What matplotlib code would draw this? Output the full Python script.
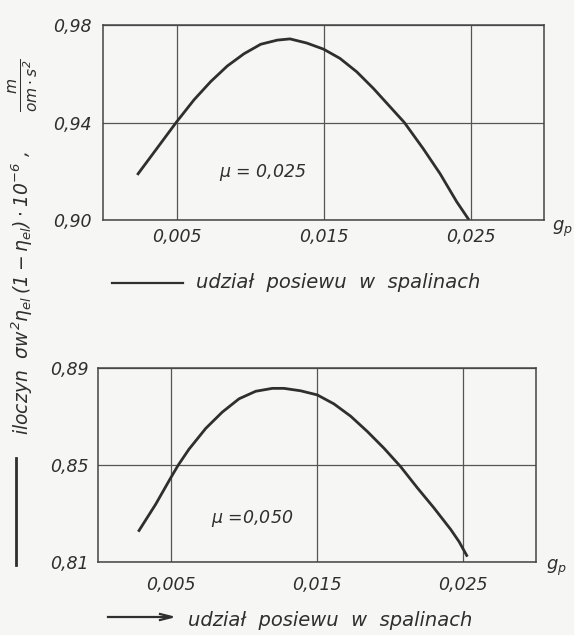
import numpy as np
import matplotlib
matplotlib.use('Agg')
import matplotlib.pyplot as plt
from matplotlib.lines import Line2D

plt.rcParams['font.family'] = ['DejaVu Sans']
plt.rcParams['font.style'] = 'italic'
plt.rcParams['mathtext.fontset'] = 'dejavusans'
plt.rcParams['mathtext.default'] = 'it'

# udzial posiewu g_p
x_gora = [0.00233, 0.005, 0.00619, 0.00733, 0.00846, 0.00959, 0.01073, 0.01186, 0.01272,
          0.01386, 0.015, 0.01612, 0.01726, 0.01839, 0.01952, 0.0205, 0.02179, 0.02293,
          0.02406, 0.0249]
y_gora = [0.9185, 0.9402, 0.9493, 0.9568, 0.9632, 0.9682, 0.9721, 0.9738, 0.9743,
          0.9726, 0.9701, 0.9663, 0.9608, 0.954, 0.9465, 0.940, 0.9292, 0.919,
          0.9075, 0.900]

x_dol = [0.00276, 0.00395, 0.00498, 0.0055, 0.00623, 0.00738, 0.00851, 0.00966, 0.0108,
         0.01194, 0.01274, 0.01388, 0.01502, 0.01616, 0.01731, 0.01845, 0.01959, 0.02073,
         0.02187, 0.02301, 0.02416, 0.02473, 0.0253]
y_dol = [0.8225, 0.8338, 0.8447, 0.850, 0.8565, 0.8651, 0.8718, 0.8773, 0.8804,
         0.8816, 0.8816, 0.8806, 0.8789, 0.8752, 0.8701, 0.8638, 0.8569, 0.8493,
         0.8406, 0.8323, 0.8234, 0.8184, 0.8122]

xticks = [0.005, 0.015, 0.025]
xtick_labels = ['0,005', '0,015', '0,025']
yticks_gora = [0.90, 0.94, 0.98]
ytick_labels_gora = ['0,90', '0,94', '0,98']
yticks_dol = [0.81, 0.85, 0.89]
ytick_labels_dol = ['0,81', '0,85', '0,89']

ink = '#2f2f2f'
tlo = '#f6f6f4'

W, H = 574, 635
fig = plt.figure(figsize=(W / 100, H / 100), dpi=100)
fig.patch.set_facecolor(tlo)


def px(x0, y0, x1, y1):
    # prostokat w pikselach (od gory) -> wspolrzedne figury
    return [x0 / W, 1 - y1 / H, (x1 - x0) / W, (y1 - y0) / H]


def panel(rect, xs, ys, yticks, ylabels, mu_txt, mu_pos, xpad, ypad):
    ax = fig.add_axes(rect)
    ax.set_facecolor(tlo)
    ax.plot(xs, ys, color=ink, lw=2.0, solid_capstyle='butt')
    ax.set_xlim(0, 0.03)
    ax.set_ylim(yticks[0], yticks[-1])
    ax.set_xticks(xticks)
    ax.set_xticklabels(xtick_labels)
    ax.set_yticks(yticks)
    ax.set_yticklabels(ylabels)
    ax.grid(True, color='#555555', lw=0.9)
    ax.tick_params(length=0, labelsize=12.5, colors=ink)
    ax.tick_params(axis='x', pad=xpad)
    ax.tick_params(axis='y', pad=ypad)
    for s in ax.spines.values():
        s.set_color('#444444')
        s.set_linewidth(1.1)
    ax.text(mu_pos[0], mu_pos[1], mu_txt, ha='center', va='center',
            fontsize=12.5, color=ink)
    return ax


ax1 = panel(px(103, 25, 544, 220), x_gora, y_gora, yticks_gora, ytick_labels_gora,
            r'$\mu$ = 0,025', (0.0109, 0.9193), 6, 8)
ax2 = panel(px(98, 368, 536, 562), x_dol, y_dol, yticks_dol, ytick_labels_dol,
            r'$\mu$ =0,050', (0.01055, 0.8281), 10, 7)

# oznaczenie osi x
fig.text(552 / W, 1 - 229 / H, r'$g_p$', fontsize=13, color=ink, va='center')
fig.text(546 / W, 1 - 568 / H, r'$g_p$', fontsize=13, color=ink, va='center')

fig.add_artist(Line2D([112 / W, 183 / W], [1 - 283 / H] * 2, color=ink, lw=1.6))
fig.text(196 / W, 1 - 283 / H, 'udział  posiewu  w  spalinach', fontsize=14,
         color=ink, va='center')
fig.add_artist(Line2D([108 / W, 170 / W], [1 - 617 / H] * 2, color=ink, lw=1.6))
fig.add_artist(Line2D([160 / W, 172 / W, 160 / W], [1 - 614 / H, 1 - 617 / H, 1 - 620 / H],
                      color=ink, lw=1.6))
fig.text(188 / W, 1 - 620 / H, 'udział  posiewu  w  spalinach', fontsize=14,
         color=ink, va='center')

# oznaczenie osi y
fig.text(22 / W, 1 - 435 / H,
         r'iloczyn  $\sigma w^2 \eta_{el}\,(1-\eta_{el})\cdot 10^{-6}$ ,',
         rotation=90, ha='center', va='bottom', fontsize=13.5, color=ink)
fig.text(24 / W, 1 - 85 / H, r'$\frac{m}{om\cdot s^2}$', rotation=90,
         ha='center', va='center', fontsize=16, color=ink)
fig.add_artist(Line2D([16 / W, 16 / W], [1 - 458 / H, 1 - 565 / H], color=ink, lw=2.0))

fig.savefig('out.png', dpi=100, facecolor=fig.get_facecolor())
